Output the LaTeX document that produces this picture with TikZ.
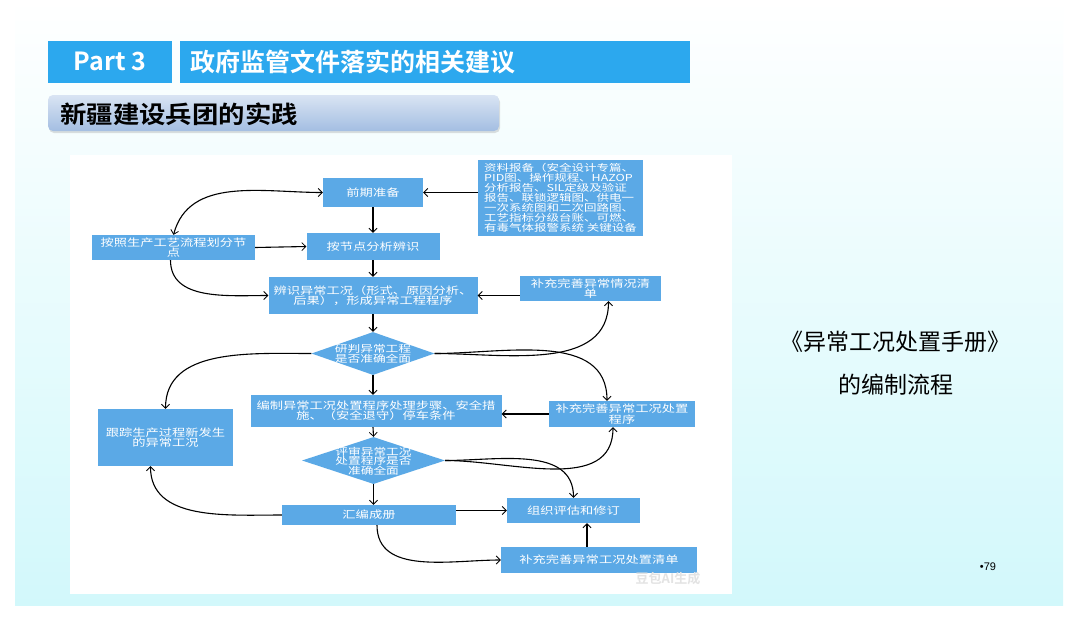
\documentclass[tikz,border=0pt]{standalone}
\usepackage{fontspec}
\setmainfont{Noto Sans CJK SC}[BoldFont={Noto Sans CJK SC Bold}]
\newfontfamily\boxfont{Noto Sans CJK SC}[FakeStretch=1.3]
\newfontfamily\subfont{Noto Sans CJK SC Bold}[FakeStretch=1.1]
\newfontfamily\latinfont{Liberation Sans}
\usetikzlibrary{arrows.meta,shapes.geometric,shadows}
\definecolor{boxblue}{HTML}{5BA9E6}
\definecolor{barblue}{HTML}{2CA8EE}
\definecolor{slidecyan}{HTML}{D2F8FB}
\definecolor{slidemid}{HTML}{EEF9FA}
\definecolor{subtop}{HTML}{D9E4F3}
\definecolor{subbot}{HTML}{A3BEE2}
\tikzset{
  box/.style n args={2}{fill=boxblue, draw=none, text=white,
    font={\boxfont\fontsize{10.2}{10.2}\selectfont}, align=center,
    inner sep=1pt, minimum width=#1, minimum height=#2},
  dia/.style n args={2}{diamond, fill=boxblue, draw=none, inner sep=0pt,
    minimum width=#1, minimum height=#2},
  dtext/.style={text=white, font={\boxfont\fontsize{9.8}{9.6}\selectfont},
    align=center, inner sep=0pt},
  tip/.style={Straight Barb[length=4pt,width=8pt,line width=0.8pt]},
  arr/.style={-{Straight Barb[length=4pt,width=8pt,line width=0.8pt]}, line width=1.1pt, black},
  darr/.style={{Straight Barb[length=4pt,width=8pt,line width=0.8pt]}-{Straight Barb[length=4pt,width=8pt,line width=0.8pt]}, line width=1.1pt, black},
}
\begin{document}
\begin{tikzpicture}[x=1pt,y=-1pt]
\useasboundingbox (0,0) rectangle (1080,622);
\fill[white] (0,0) rectangle (1080,622);
% slide background
\shade[top color=white, middle color=slidemid, bottom color=slidecyan] (15,0) rectangle (1063,605);
% header bars
\node[fill=barblue, minimum width=124, minimum height=42, inner sep=0pt,
  text=white, font={\bfseries\fontsize{25}{25}\selectfont}] (part) at (110,61.5) {Part 3};
\node[fill=barblue, minimum width=510, minimum height=42, inner sep=0pt] (titlebar) at (435,61.5) {};
\node[anchor=west, text=white, font={\bfseries\fontsize{25}{25}\selectfont}, inner sep=0pt] (title) at (190,62) {政府监管文件落实的相关建议};
\node[rounded corners=5pt, top color=subtop, bottom color=subbot, minimum width=451, minimum height=36, inner sep=0pt,
  drop shadow={opacity=0.25, shadow xshift=1pt, shadow yshift=-2pt}] (subbar) at (273.5,113) {};
\node[anchor=west, font={\subfont\fontsize{24}{24}\selectfont}, inner sep=0pt] (subtitle) at (60,114) {新疆建设兵团的实践};
% flowchart canvas
\fill[white] (70,155) rectangle (732,594);
% nodes
\node[box={100}{29}] (pq) at (373,192.5) {前期准备};
\node[box={165}{76}, align=left, font={\boxfont\fontsize{9.6}{10}\selectfont}] (data) at (560.5,197.5)
  {资料报备（安全设计专篇、\\PID图、操作规程、HAZOP\\分析报告、SIL定级及验证\\报告、联锁逻辑图、供电一\\一次系统图和二次回路图、\\工艺指标分级台账、可燃、\\有毒气体报警系统 关键设备};
\node[box={163}{25}] (az) at (173.5,247.5) {按照生产工艺流程划分节\\点};
\node[box={133}{27}] (anjd) at (373,246.5) {按节点分析辨识};
\node[box={209}{37}] (bs) at (373,295.5) {辨识异常工况（形式、原因分析、\\后果），形成异常工程程序};
\node[box={141}{25}] (bq) at (590.5,288.5) {补充完善异常情况清\\单};
\node[dia={123}{43}] (d1) at (373,353.5) {};
\node[dtext] (d1t) at (373,354) {研判异常工程\\是否准确全面};
\node[box={251}{32}] (gz) at (376,411) {编制异常工况处置程序处理步骤、安全措\\施、（安全退守）停车条件};
\node[box={146}{26}] (bc) at (622,414) {补充完善异常工况处置\\程序};
\node[dia={143}{47}] (d2) at (373.5,460.5) {};
\node[dtext] (d2t) at (373.5,461) {评审异常工况\\处置程序是否\\准确全面};
\node[box={135}{57}] (gt) at (165.5,437.5) {跟踪生产过程新发生\\的异常工况};
\node[box={174}{20}] (hb) at (369,515) {汇编成册};
\node[box={133}{25}] (zz) at (573.5,510.5) {组织评估和修订};
\node[box={196}{26}] (bd) at (599,560) {补充完善异常工况处置清单};
% watermark
\node[text=gray!22, font={\bfseries\fontsize{13}{13}\selectfont}, inner sep=0pt] (wm) at (668,579) {豆包AI生成};
% connectors
\draw[darr] (pq.west) to[out=180,in=75] (az.north);
\draw[arr] (az.east) -- (anjd.west);
\draw[arr] ([xshift=-3pt]az.south) to[out=-90,in=180] (bs.west);
\draw[arr] (pq.south -| d1) -- (anjd.north -| d1);
\draw[arr] (anjd.south -| d1) -- (bs.north -| d1);
\draw[arr] (bs.south -| d1) -- (d1.north);
\draw[arr] (d1.south) -- (gz.north -| d1);
\draw[arr] (gz.south -| d1) -- (d2.north);
\draw[arr] (d2.south) -- (hb.north -| d2);
\draw[arr] (data.west |- pq.east) -- (pq.east);
\draw[arr] (bq.west |- bs.east) -- (bs.east);
\draw[arr] (d1.east) to[out=0,in=-90] ([xshift=18pt]bq.south);
\draw[arr] (d1.east) to[out=0,in=90] ([xshift=-15pt]bc.north);
\draw[arr] (bc.west) -- (bc.west -| gz.east);
\draw[arr] (d2.east) to[out=0,in=-90] ([xshift=-9pt]bc.south);
\draw[arr] (d2.east) to[out=0,in=90] (zz.north);
\draw[arr] (d1.west) to[out=180,in=90] (gt.north);
\draw[arr] (hb.west) to[out=180,in=-90] ([xshift=-15pt]gt.south);
\draw[arr] (hb.east |- zz.west) -- (zz.west);
\draw[arr] ([xshift=8pt]hb.south) to[out=-90,in=180] (bd.west);
\draw[arr] ([xshift=-12pt]bd.north) -- ([xshift=-12pt]bd.north |- zz.south);
% right side text
\node[font={\fontsize{23}{23}\selectfont}, inner sep=0pt] (rt1) at (895,342) {《异常工况处置手册》};
\node[font={\fontsize{23}{23}\selectfont}, inner sep=0pt] (rt2) at (896,385) {的编制流程};
\node[font={\latinfont\fontsize{11}{11}\selectfont}, inner sep=0pt] (pg) at (988,567) {•79};
\end{tikzpicture}
\end{document}
